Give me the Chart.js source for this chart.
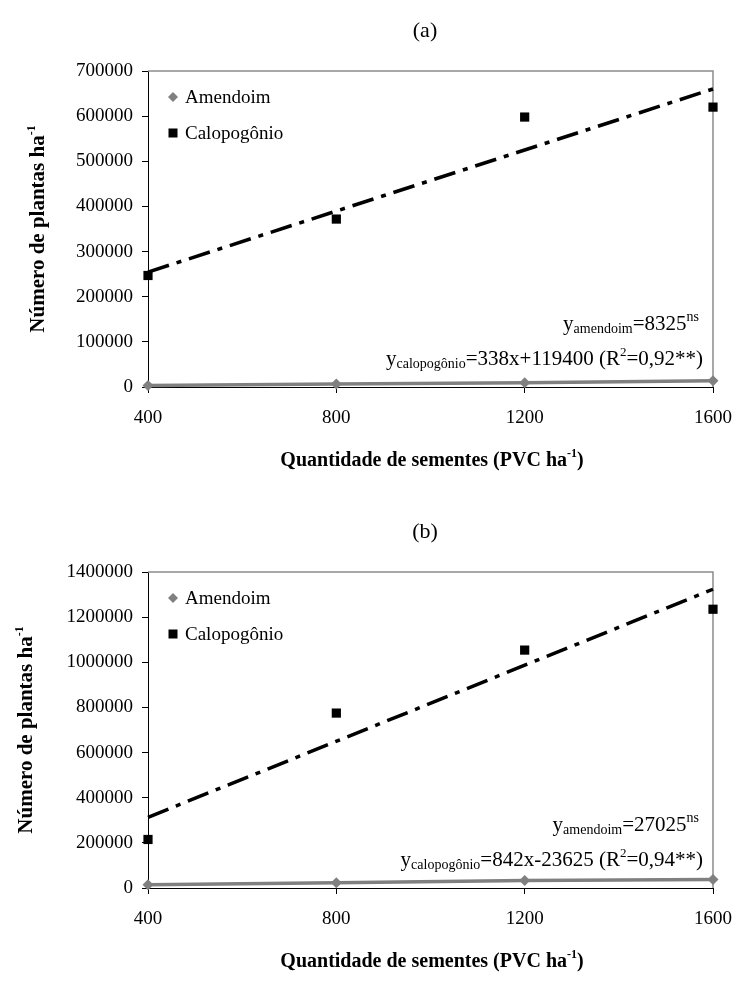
<!DOCTYPE html>
<html>
<head>
<meta charset="utf-8">
<script src="https://cdn.jsdelivr.net/npm/chart.js@4.4.0/dist/chart.umd.min.js"></script>
<style>
  body { margin: 0; background: #fff; width: 750px; height: 989px; overflow: hidden; position: relative; }
  canvas { position: absolute; left: 0; }
</style>
</head>
<body>
<canvas id="chartA" width="750" height="500" style="top:0px"></canvas>
<canvas id="chartB" width="750" height="489" style="top:500px"></canvas>
<script>
// doses (PVC ha-1) on the x axis
var doses = [400, 800, 1200, 1600];

// panel (a)
var amendoimA = [3500, 6500, 9500, 13800];
var calopoA = [247000, 372000, 598000, 620000];
var trendA = [338, 119400]; // slope, intercept
var yMaxA = 700000;
var yStepA = 100000;

// panel (b)
var amendoimB = [14000, 23000, 33000, 38100];
var calopoB = [215000, 775000, 1054000, 1235000];
var trendB = [842, -23625];
var yMaxB = 1400000;
var yStepB = 200000;

var SERIF = "'Liberation Serif', 'Times New Roman', serif";

function font(size, bold) {
  return (bold ? "bold " : "") + size + "px " + SERIF;
}

// draws a run of text pieces (sub/superscripts) from one baseline
function drawRich(ctx, parts, x, y, align) {
  var w = 0;
  parts.forEach(function (p) {
    ctx.font = p.font;
    w += ctx.measureText(p.t).width;
  });
  var cx = align === "center" ? x - w / 2 : align === "right" ? x - w : x;
  ctx.textAlign = "left";
  ctx.textBaseline = "alphabetic";
  parts.forEach(function (p) {
    ctx.font = p.font;
    ctx.fillText(p.t, cx, y + (p.dy || 0));
    cx += ctx.measureText(p.t).width;
  });
}

function makeChart(id, opts) {
  var canvas = document.getElementById(id);
  var H = canvas.height;
  var plotTop = opts.plotTop, plotBottom = opts.plotBottom;

  var decor = {
    id: "decor",
    beforeDatasetsDraw: function (chart) {
      var ctx = chart.ctx, a = chart.chartArea;
      ctx.save();
      ctx.strokeStyle = "#8c8c8c";
      ctx.lineWidth = 1.5;
      ctx.beginPath();
      ctx.moveTo(a.left, a.top);
      ctx.lineTo(a.right, a.top);
      ctx.lineTo(a.right, a.bottom);
      ctx.stroke();
      ctx.restore();
    },
    afterDraw: function (chart) {
      var ctx = chart.ctx, a = chart.chartArea;
      ctx.save();
      ctx.fillStyle = "#000";

      // panel letter
      drawRich(ctx, [{ t: opts.letter, font: "22px " + SERIF }], 425, plotTop - 34, "center");

      // x title
      drawRich(ctx, [
        { t: "Quantidade de sementes (PVC ha", font: font(20, true) },
        { t: "-1", font: font(12, true), dy: -9 },
        { t: ")", font: font(20, true) }
      ], 432, a.bottom + 79, "center");

      // y title
      ctx.save();
      ctx.translate(opts.yTitleX, (a.top + a.bottom) / 2);
      ctx.rotate(-Math.PI / 2);
      drawRich(ctx, [
        { t: "Número de plantas ha", font: font(21, true) },
        { t: "-1", font: font(12, true), dy: -9 }
      ], 0, 7, "center");
      ctx.restore();

      // legend inside the plot
      var lx = a.left + 25;
      var y1 = a.top + 26, y2 = a.top + 62;
      ctx.fillStyle = "#808080";
      ctx.beginPath();
      ctx.moveTo(lx, y1 - 5);
      ctx.lineTo(lx + 5, y1);
      ctx.lineTo(lx, y1 + 5);
      ctx.lineTo(lx - 5, y1);
      ctx.closePath();
      ctx.fill();
      ctx.fillStyle = "#000";
      ctx.fillRect(lx - 4.5, y2 - 4.5, 9, 9);
      ctx.font = font(19);
      ctx.textBaseline = "middle";
      ctx.fillText("Amendoim", lx + 12, y1 + 1);
      ctx.fillText("Calopogônio", lx + 12, y2 + 1);

      // regression equations
      var rx = a.right - 10;
      drawRich(ctx, [
        { t: "y", font: font(21) },
        { t: "amendoim", font: font(14), dy: 3 },
        { t: "=" + opts.eqA, font: font(21) },
        { t: "ns", font: font(14), dy: -9 }
      ], rx - 4, a.bottom - 57, "right");
      drawRich(ctx, [
        { t: "y", font: font(21) },
        { t: "calopogônio", font: font(14), dy: 3 },
        { t: "=" + opts.eqC + " (R", font: font(21) },
        { t: "2", font: font(13), dy: -9 },
        { t: "=" + opts.r2 + ")", font: font(21) }
      ], rx, a.bottom - 22, "right");
      ctx.restore();
    }
  };

  var trend = opts.trend;
  return new Chart(canvas, {
    type: "scatter",
    data: {
      datasets: [
        {
          label: "Calopogônio",
          data: doses.map(function (x, i) { return { x: x, y: opts.calopo[i] }; }),
          showLine: false,
          pointStyle: "rect",
          pointRadius: 6.5,
          pointBackgroundColor: "#000",
          pointBorderColor: "#000",
          pointBorderWidth: 0,
          clip: false
        },
        {
          label: "Amendoim",
          data: doses.map(function (x, i) { return { x: x, y: opts.amendoim[i] }; }),
          showLine: true,
          borderColor: "#808080",
          borderWidth: 3.5,
          pointStyle: "rectRot",
          pointRadius: 5.5,
          pointBackgroundColor: "#808080",
          pointBorderColor: "#808080",
          pointBorderWidth: 0,
          clip: false
        },
        {
          label: "trend",
          data: [doses[0], doses[doses.length - 1]].map(function (x) {
            return { x: x, y: trend[0] * x + trend[1] };
          }),
          showLine: true,
          borderColor: "#000",
          borderWidth: 3.5,
          borderDash: [22, 8, 5, 8],
          pointRadius: 0,
          clip: false
        }
      ]
    },
    options: {
      responsive: false,
      animation: false,
      events: [],
      layout: { padding: { left: 0, right: 750 - 713, top: plotTop, bottom: H - plotBottom - 40 } },
      plugins: { legend: { display: false }, tooltip: { enabled: false }, title: { display: false } },
      scales: {
        x: {
          type: "linear",
          min: 400,
          max: 1600,
          afterBuildTicks: function (s) { s.ticks = doses.map(function (v) { return { value: v }; }); },
          afterFit: function (s) { s.height = 40; },
          grid: { drawOnChartArea: false, drawTicks: true, tickLength: 6, color: "#000" },
          border: { color: "#000", width: 1 },
          ticks: {
            color: "#000", font: { family: SERIF, size: 19 }, padding: 14, maxRotation: 0,
            callback: function (v) { return String(v); }
          }
        },
        y: {
          min: 0,
          max: opts.yMax,
          afterFit: function (s) { s.width = 148; },
          grid: { drawOnChartArea: false, drawTicks: true, tickLength: 6, color: "#000" },
          border: { color: "#000", width: 1 },
          ticks: {
            stepSize: opts.yStep, color: "#000", font: { family: SERIF, size: 19 }, padding: 9,
            callback: function (v) { return String(v); }
          }
        }
      }
    },
    plugins: [decor]
  });
}

makeChart("chartA", {
  letter: "(a)", amendoim: amendoimA, calopo: calopoA, trend: trendA,
  yMax: yMaxA, yStep: yStepA, plotTop: 71, plotBottom: 387, yTitleX: 37,
  eqA: "8325", eqC: "338x+119400", r2: "0,92**"
});
makeChart("chartB", {
  letter: "(b)", amendoim: amendoimB, calopo: calopoB, trend: trendB,
  yMax: yMaxB, yStep: yStepB, plotTop: 72, plotBottom: 388, yTitleX: 25,
  eqA: "27025", eqC: "842x-23625", r2: "0,94**"
});
</script>
</body>
</html>
